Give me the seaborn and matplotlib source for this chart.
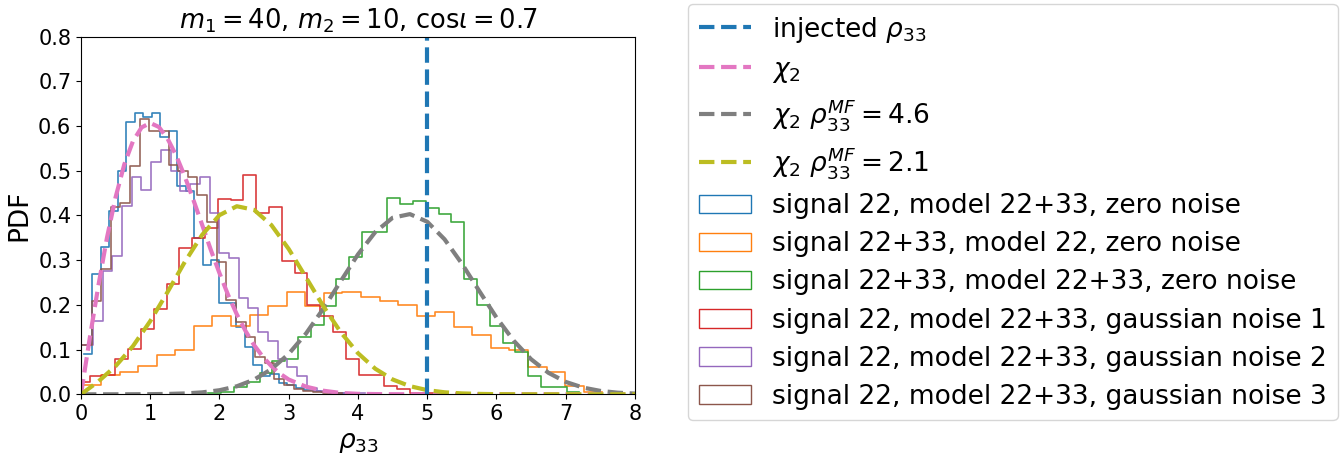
import numpy as np
import pandas as pd
import matplotlib

matplotlib.use('Agg')
import matplotlib.pyplot as plt
from matplotlib.lines import Line2D
from matplotlib.patches import Patch
import seaborn as sns

# ==========================================
# data
# ==========================================
# histograms: first bin edge, bin width, bin heights (PDF)
blue_start, blue_width = 0.04, 0.1225
blue_heights = [0.09, 0.27, 0.33, 0.41, 0.50, 0.61, 0.63, 0.62, 0.63, 0.575, 0.59, 0.465,
                0.455, 0.35, 0.29, 0.30, 0.205, 0.205, 0.15, 0.105, 0.065, 0.04, 0.045,
                0.025, 0.02, 0.013, 0.01, 0.007, 0.005, 0.004, 0.002, 0.002]

orange_start, orange_width = 0.023, 0.268
orange_heights = [0.021, 0.043, 0.05, 0.063, 0.087, 0.10, 0.152, 0.175, 0.152, 0.178,
                  0.198, 0.228, 0.198, 0.226, 0.228, 0.217, 0.208, 0.199, 0.175, 0.184,
                  0.15, 0.132, 0.104, 0.10, 0.061, 0.05, 0.019, 0.005]

green_start, green_width = 1.84, 0.1847
green_heights = [0.003, 0.006, 0.017, 0.028, 0.047, 0.074, 0.08, 0.128, 0.154, 0.198,
                 0.258, 0.307, 0.362, 0.362, 0.44, 0.426, 0.432, 0.417, 0.403, 0.385,
                 0.258, 0.2, 0.152, 0.115, 0.095, 0.04, 0.017, 0.017, 0.006]

red_start, red_width = -0.06, 0.185
red_heights = [0.028, 0.04, 0.043, 0.078, 0.102, 0.147, 0.191, 0.247, 0.328, 0.35,
               0.372, 0.437, 0.435, 0.49, 0.406, 0.419, 0.298, 0.272, 0.20, 0.176,
               0.139, 0.08, 0.043, 0.043, 0.018, 0.011, 0.003, 0.002]

purple_start, purple_width = 0.03, 0.1405
purple_heights = [0.11, 0.165, 0.276, 0.31, 0.422, 0.485, 0.456, 0.519, 0.547, 0.50,
                  0.454, 0.47, 0.487, 0.406, 0.317, 0.304, 0.215, 0.192, 0.14, 0.12,
                  0.08, 0.06, 0.04, 0.013, 0.008, 0.006, 0.004, 0.003, 0.002]

brown_start, brown_width = 0.013, 0.139
brown_heights = [0.11, 0.208, 0.28, 0.42, 0.428, 0.51, 0.615, 0.59, 0.59, 0.513, 0.50,
                 0.487, 0.446, 0.385, 0.295, 0.21, 0.161, 0.128, 0.084, 0.069, 0.035,
                 0.02, 0.012, 0.008, 0.005, 0.003, 0.002]

hist_labels = ["signal 22, model 22+33, zero noise",
               "signal 22+33, model 22, zero noise",
               "signal 22+33, model 22+33, zero noise",
               "signal 22, model 22+33, gaussian noise 1",
               "signal 22, model 22+33, gaussian noise 2",
               "signal 22, model 22+33, gaussian noise 3"]

# chi_2 curves (read at the listed rho values)
chi2_x = [0, 0.125, 0.25, 0.375, 0.5, 0.625, 0.75, 0.875, 1.0, 1.125, 1.25, 1.375, 1.5,
          1.625, 1.75, 1.875, 2.0, 2.125, 2.25, 2.375, 2.5, 2.625, 2.75, 2.875, 3.0,
          3.25, 3.5, 3.75, 4.0, 4.25, 4.5, 5.0, 6.0, 7.0, 8.0]
chi2_y = [0, 0.124, 0.242, 0.350, 0.441, 0.514, 0.566, 0.597, 0.607, 0.598, 0.572,
          0.534, 0.487, 0.434, 0.379, 0.323, 0.271, 0.222, 0.179, 0.142, 0.110, 0.084,
          0.063, 0.046, 0.033, 0.017, 0.008, 0.003, 0.001, 0.0005, 0.0002, 0, 0, 0, 0]

nc_x = [0, 0.25, 0.5, 0.75, 1.0, 1.25, 1.5, 1.75, 2.0, 2.25, 2.5, 2.75, 3.0, 3.25, 3.5,
        3.75, 4.0, 4.25, 4.5, 4.75, 5.0, 5.25, 5.5, 5.75, 6.0, 6.25, 6.5, 6.75, 7.0,
        7.25, 7.5, 7.75, 8.0]
nc46_y = [0, 0, 0, 0.0001, 0.0003, 0.0008, 0.0019, 0.0043, 0.0091, 0.0179, 0.0328,
          0.0563, 0.0904, 0.136, 0.1916, 0.2528, 0.3129, 0.363, 0.3949, 0.4031, 0.386,
          0.3468, 0.2924, 0.2314, 0.1717, 0.1197, 0.0784, 0.0481, 0.0277, 0.015, 0.0076,
          0.0036, 0.0016]
nc21_y = [0, 0.0286, 0.063, 0.1076, 0.1637, 0.2287, 0.2963, 0.3568, 0.4008, 0.4207,
          0.4126, 0.3785, 0.325, 0.2613, 0.1969, 0.139, 0.092, 0.0571, 0.0332, 0.0182,
          0.0093, 0.0045, 0.002, 0.0009, 0.0003, 0.0001, 0, 0, 0, 0, 0, 0, 0]

rho_injected = 5.0

# ==========================================
# plot
# ==========================================
plt.rcParams['font.family'] = ['DejaVu Sans']
plt.rcParams['font.size'] = 15
plt.rcParams['mathtext.fontset'] = 'dejavusans'

fig = plt.figure(figsize=(13.43, 4.53), dpi=100)
ax = fig.add_axes([0.0603, 0.1296, 0.4125, 0.7894])

hists = [(blue_start, blue_width, blue_heights, 'C0'),
         (orange_start, orange_width, orange_heights, 'C1'),
         (green_start, green_width, green_heights, 'C2'),
         (red_start, red_width, red_heights, 'C3'),
         (purple_start, purple_width, purple_heights, 'C4'),
         (brown_start, brown_width, brown_heights, 'C5')]

for start, width, heights, col in hists:
    edges = start + width * np.arange(len(heights) + 1)
    df_h = pd.DataFrame({'rho': edges[:-1] + width / 2, 'pdf': heights})
    sns.histplot(data=df_h, x='rho', weights='pdf', bins=edges.tolist(), element='step',
                 fill=False, color=col, linewidth=1.2, alpha=0.9, ax=ax)

sns.lineplot(x=chi2_x, y=chi2_y, color='C6', lw=3, linestyle='--', ax=ax)
sns.lineplot(x=nc_x, y=nc46_y, color='C7', lw=3, linestyle='--', ax=ax)
sns.lineplot(x=nc_x, y=nc21_y, color='C8', lw=3, linestyle='--', ax=ax)
ax.axvline(rho_injected, color='C0', lw=3, linestyle='--')

ax.set_xlim(0, 8)
ax.set_ylim(0, 0.8)
ax.set_xlabel(r'$\rho_{33}$', fontsize=19)
ax.set_ylabel('PDF', fontsize=19)
ax.set_title(r'$m_1 = 40$, $m_2 = 10$, $\mathrm{cos}\iota = 0.7$', fontsize=18.5)

handles = [Line2D([], [], color='C0', lw=3, ls='--'),
           Line2D([], [], color='C6', lw=3, ls='--'),
           Line2D([], [], color='C7', lw=3, ls='--'),
           Line2D([], [], color='C8', lw=3, ls='--')]
handles += [Patch(facecolor='none', edgecolor=c) for c in ['C0', 'C1', 'C2', 'C3', 'C4', 'C5']]
labels = [r'injected $\rho_{33}$', r'$\chi_2$', r'$\chi_2\ \rho_{33}^{MF} = 4.6$',
          r'$\chi_2\ \rho_{33}^{MF} = 2.1$'] + hist_labels
ax.legend(handles, labels, loc='upper left', bbox_to_anchor=(688 / 1343, 1 - 4 / 453),
          bbox_transform=fig.transFigure, fontsize=19, labelspacing=0.46, borderaxespad=0)

fig.savefig('out.png', dpi=100)
plt.close()
